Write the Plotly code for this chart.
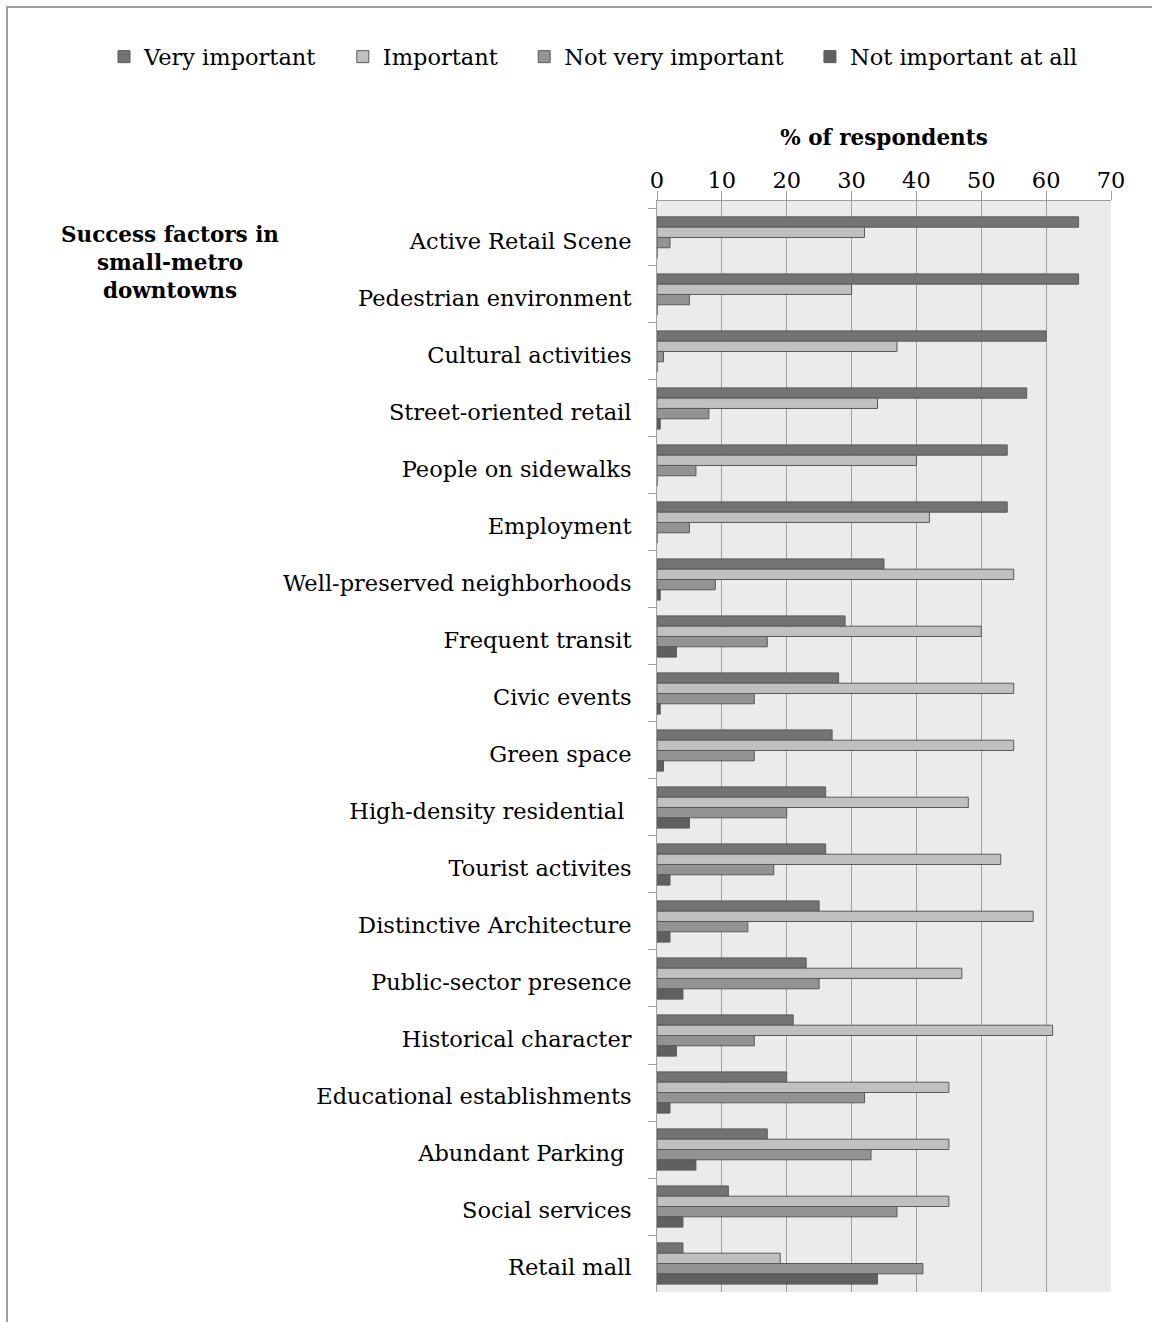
import plotly.graph_objects as go

categories = [
    "Active Retail Scene", "Pedestrian environment", "Cultural activities",
    "Street-oriented retail", "People on sidewalks", "Employment",
    "Well-preserved neighborhoods", "Frequent transit", "Civic events",
    "Green space", "High-density residential ", "Tourist activites",
    "Distinctive Architecture", "Public-sector presence", "Historical character",
    "Educational establishments", "Abundant Parking ", "Social services",
    "Retail mall",
]
very_important = [65, 65, 60, 57, 54, 54, 35, 29, 28, 27, 26, 26, 25, 23, 21, 20, 17, 11, 4]
important = [32, 30, 37, 34, 40, 42, 55, 50, 55, 55, 48, 53, 58, 47, 61, 45, 45, 45, 19]
not_very_important = [2, 5, 1, 8, 6, 5, 9, 17, 15, 15, 20, 18, 14, 25, 15, 32, 33, 37, 41]
not_important_at_all = [0, 0, 0, 0.5, 0, 0, 0.5, 3, 0.5, 1, 5, 2, 2, 4, 3, 2, 6, 4, 34]

series = [
    ("Very important", very_important, "#737373"),
    ("Important", important, "#C0C0C0"),
    ("Not very important", not_very_important, "#939393"),
    ("Not important at all", not_important_at_all, "#606060"),
]
x_ticks = [0, 10, 20, 30, 40, 50, 60, 70]

FONT = "DejaVu Serif"
FS = 22.5
W, H = 1152, 1322
ML, MR, MT, MB = 657, 41, 201, 30
PW, PH = W - ML - MR, H - MT - MB

fig = go.Figure()
pad = "\u00a0" * 3
for name, vals, col in series:
    fig.add_trace(go.Bar(
        y=categories, x=vals, name=name + pad, orientation="h",
        marker=dict(color=col, line=dict(color="#5A5A5A", width=1)),
    ))

fig.update_layout(
    width=W, height=H,
    margin=dict(l=ML, r=MR, t=MT, b=MB, pad=0),
    paper_bgcolor="white", plot_bgcolor="#EBEBEB",
    barmode="group", bargap=0.277, bargroupgap=0,
    font=dict(family=FONT, size=FS, color="black"),
    legend=dict(
        orientation="h", x=(104 - ML) / PW, xanchor="left",
        y=1 + (MT - 57) / PH, yanchor="middle",
        font=dict(family=FONT, size=FS), traceorder="normal",
        itemwidth=30, bgcolor="rgba(0,0,0,0)",
    ),
    showlegend=True,
)
fig.update_xaxes(
    side="top", range=[0, 70], tickvals=x_ticks, ticktext=[str(v) for v in x_ticks],
    showgrid=True, gridcolor="#9E9E9E", gridwidth=1,
    showline=True, linecolor="#9E9E9E", linewidth=1,
    ticks="outside", ticklen=9, tickcolor="#9E9E9E",
    zeroline=False, mirror=False, ticklabelstandoff=-6,
    title=dict(text="<b>% of respondents</b>", font=dict(family=FONT, size=21.5), standoff=15),
)
fig.update_yaxes(
    type="category", range=[18.5, -0.64],
    showline=True, linecolor="#9E9E9E", linewidth=1,
    ticks="outside", ticklen=8, tickcolor="#9E9E9E", tickson="boundaries",
    showgrid=False, ticklabelstandoff=20, ticklabelshift=-4,
)

fig.add_annotation(
    text="<b>Success factors in<br>small-metro<br>downtowns</b>",
    xref="paper", yref="paper", x=(170 - ML) / PW, y=1 + (MT - 262) / PH,
    xanchor="center", yanchor="middle", showarrow=False, align="center",
    font=dict(family=FONT, size=21.5, color="black"),
)
fig.add_shape(
    type="rect", xref="paper", yref="paper",
    x0=(7 - ML) / PW, x1=(W + 20 - ML) / PW,
    y0=1 + (MT - (H + 20)) / PH, y1=1 + (MT - 7) / PH,
    line=dict(color="#A0A0A0", width=2), fillcolor="rgba(0,0,0,0)", layer="below",
)

fig.write_html("out.html")
